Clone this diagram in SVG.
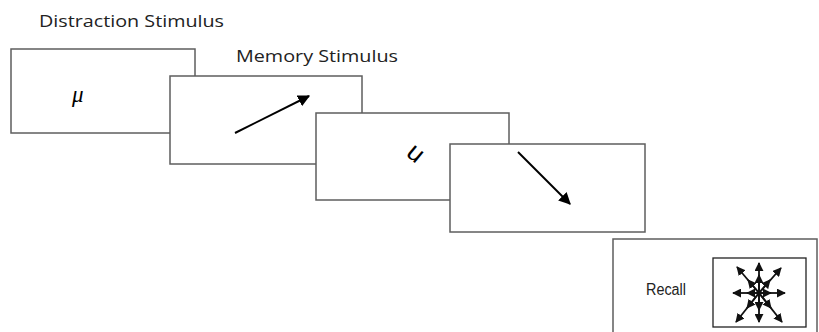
<svg xmlns="http://www.w3.org/2000/svg" width="819" height="332" viewBox="0 0 819 332">
  <style>
    .frame { fill: #ffffff; stroke: #5e5e5e; stroke-width: 1.5; }
    .label { font-family: "Open Sans", "Liberation Sans", sans-serif; font-size: 16.5px; fill: #222222; }
    .stim { stroke: #000000; stroke-width: 2; fill: none; }
    .ray { stroke: #111111; stroke-width: 1.8; fill: none; }
  </style>
  <defs>
    <marker id="head" viewBox="0 0 10 10" refX="9" refY="5" markerWidth="6" markerHeight="6" orient="auto" markerUnits="strokeWidth">
      <path d="M0,0 L10,5 L0,10 z" fill="#000000"/>
    </marker>
    <marker id="tip" viewBox="0 0 10 10" refX="9" refY="5" markerWidth="5" markerHeight="5" orient="auto" markerUnits="strokeWidth">
      <path d="M0,0 L10,5 L0,10 z" fill="#111111"/>
    </marker>
  </defs>

  <text class="label" x="39" y="27" textLength="185" lengthAdjust="spacingAndGlyphs">Distraction Stimulus</text>
  <text class="label" x="236" y="62" textLength="162" lengthAdjust="spacingAndGlyphs">Memory Stimulus</text>

  <g id="distraction-1">
    <rect class="frame" x="11" y="49" width="184" height="84"/>
    <text x="72" y="102" font-family="Liberation Serif, serif" font-style="italic" font-size="23" fill="#000">μ</text>
  </g>

  <g id="memory-1">
    <rect class="frame" x="170" y="76" width="192" height="88"/>
    <line class="stim" x1="235" y1="133" x2="309" y2="96" marker-end="url(#head)"/>
  </g>

  <g id="distraction-2">
    <rect class="frame" x="316" y="113" width="193" height="87"/>
    <text x="0" y="0" font-family="Liberation Sans, sans-serif" font-size="26" fill="#000" text-anchor="middle" transform="translate(410.5,159.5) rotate(40)">u</text>
  </g>

  <g id="memory-2">
    <rect class="frame" x="450" y="144" width="195" height="88"/>
    <line class="stim" x1="518" y1="152" x2="570" y2="204" marker-end="url(#head)"/>
  </g>

  <g id="recall">
    <rect class="frame" x="613" y="239" width="204" height="110"/>
    <text x="646" y="295" font-family="Liberation Sans, Arial, sans-serif" font-size="16" fill="#222" textLength="40" lengthAdjust="spacingAndGlyphs">Recall</text>
    <rect x="713" y="258" width="93" height="69" fill="#ffffff" stroke="#222222" stroke-width="1.3"/>
    <g id="response-star" transform="translate(759,293)">
      <line class="ray" x1="0" y1="0" x2="0" y2="-30" marker-end="url(#tip)"/>
      <line class="ray" x1="0" y1="0" x2="0" y2="29" marker-end="url(#tip)"/>
      <line class="ray" x1="0" y1="0" x2="-26" y2="0" marker-end="url(#tip)"/>
      <line class="ray" x1="0" y1="0" x2="26" y2="0" marker-end="url(#tip)"/>
      <line class="ray" x1="0" y1="0" x2="-22" y2="-26" marker-end="url(#tip)"/>
      <line class="ray" x1="0" y1="0" x2="22" y2="-25" marker-end="url(#tip)"/>
      <line class="ray" x1="0" y1="0" x2="-23" y2="29" marker-end="url(#tip)"/>
      <line class="ray" x1="0" y1="0" x2="23" y2="29" marker-end="url(#tip)"/>
      <line class="ray" x1="0" y1="0" x2="0" y2="-18" marker-end="url(#tip)"/>
      <line class="ray" x1="0" y1="0" x2="0" y2="17" marker-end="url(#tip)"/>
      <line class="ray" x1="0" y1="0" x2="-12" y2="0" marker-end="url(#tip)"/>
      <line class="ray" x1="0" y1="0" x2="12" y2="0" marker-end="url(#tip)"/>
      <line class="ray" x1="0" y1="0" x2="-11" y2="-13" marker-end="url(#tip)"/>
      <line class="ray" x1="0" y1="0" x2="11" y2="-13" marker-end="url(#tip)"/>
      <line class="ray" x1="0" y1="0" x2="-12" y2="15" marker-end="url(#tip)"/>
      <line class="ray" x1="0" y1="0" x2="12" y2="15" marker-end="url(#tip)"/>
    </g>
  </g>
</svg>
